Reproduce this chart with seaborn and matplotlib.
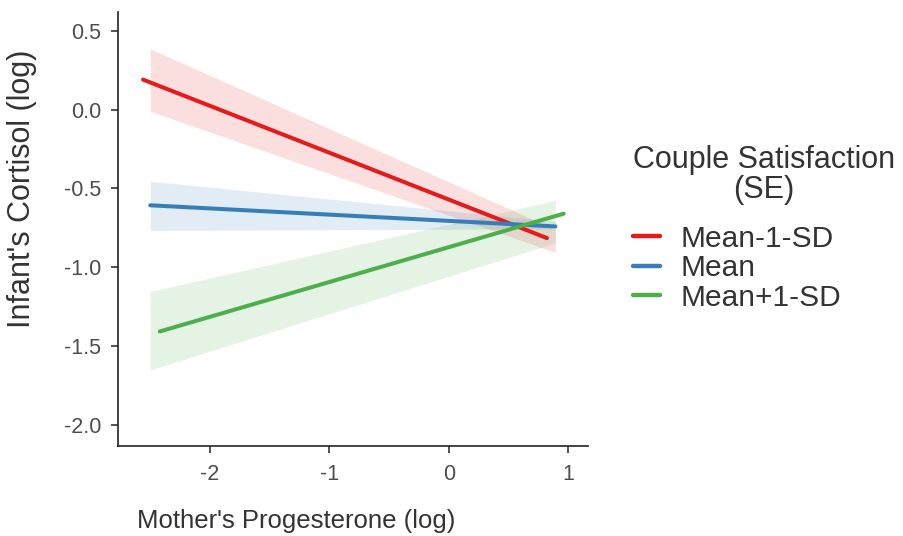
import numpy as np
import pandas as pd
import matplotlib
matplotlib.use("Agg")
import matplotlib.pyplot as plt
import seaborn as sns

# ---- data ----
groups = ["Mean-1-SD", "Mean", "Mean+1-SD"]
colors = ["#E41A1C", "#377EB8", "#4DAF4A"]

line_x_start = [-2.56, -2.50, -2.42]
line_x_end = [0.82, 0.89, 0.96]
line_y_start = [0.19, -0.607, -1.407]
line_y_end = [-0.815, -0.741, -0.660]

band_x_start = [-2.50, -2.50, -2.50]
band_x_end = [0.89, 0.89, 0.89]
band_upper_start = [0.385, -0.455, -1.153]
band_lower_start = [-0.01, -0.766, -1.651]
band_upper_end = [-0.76, -0.709, -0.576]
band_lower_end = [-0.906, -0.757, -0.845]

x_ticks = [-2, -1, 0, 1]
y_ticks = [-2.0, -1.5, -1.0, -0.5, 0.0, 0.5]

# ---- build tables ----
rows = []
for g, x0, x1, y0, y1 in zip(groups, line_x_start, line_x_end, line_y_start, line_y_end):
    rows.append({"x": x0, "y": y0, "group": g})
    rows.append({"x": x1, "y": y1, "group": g})
lines_df = pd.DataFrame(rows)

sns.set_theme(style="ticks")
plt.rcParams["font.family"] = ["Liberation Sans", "DejaVu Sans"]

fig = plt.figure(figsize=(9.04, 5.36), dpi=100)
ax = fig.add_axes([0.1305, 0.168, 0.5195, 0.81])

for g, c, bx0, bx1, u0, l0, u1, l1 in zip(groups, colors, band_x_start, band_x_end,
                                          band_upper_start, band_lower_start,
                                          band_upper_end, band_lower_end):
    ax.fill_between([bx0, bx1], [l0, l1], [u0, u1], color=c, alpha=0.14, linewidth=0)

sns.lineplot(data=lines_df, x="x", y="y", hue="group", hue_order=groups,
             palette=colors, linewidth=2.9, ax=ax, legend=True)

ax.set_xlim(-2.77, 1.16)
ax.set_ylim(-2.133, 0.62)
ax.set_xticks(x_ticks)
ax.set_xticklabels([str(t) for t in x_ticks])
ax.set_yticks(y_ticks)
ax.set_yticklabels([f"{t:.1f}" for t in y_ticks])
ax.tick_params(axis="both", labelsize=15.5, colors="#333333", length=5, width=1.2,
               labelcolor="#4D4D4D")
ax.tick_params(axis="x", pad=8)
ax.tick_params(axis="y", pad=7)
for s in ["left", "bottom"]:
    ax.spines[s].set_linewidth(1.2)
    ax.spines[s].set_color("#222222")
sns.despine(ax=ax)

ax.set_xlabel("Mother's Progesterone (log)", fontsize=18.5, color="#333333")
ax.xaxis.set_label_coords(0.379, -0.146)
ax.set_ylabel("Infant's Cortisol (log)", fontsize=22, color="#333333")
ax.yaxis.set_label_coords(-0.172, 0.592)

handles, labels = ax.get_legend_handles_labels()
leg = ax.legend(handles, labels, title="Couple Satisfaction\n(SE)", fontsize=21.5,
                title_fontsize=22, frameon=False, loc="upper left",
                bbox_to_anchor=(1.096, 0.693), handlelength=0.9, handletextpad=0.7,
                labelspacing=0.05, borderaxespad=0, borderpad=0, alignment="left")
leg.get_title().set_multialignment("center")
leg.get_title().set_linespacing(1.0)
leg.get_title().set_color("#333333")
leg._legend_box.sep = 14.0
for t in leg.get_texts():
    t.set_color("#333333")
for h in leg.legend_handles:
    h.set_linewidth(3.2)

fig.savefig("out.png", dpi=100)
